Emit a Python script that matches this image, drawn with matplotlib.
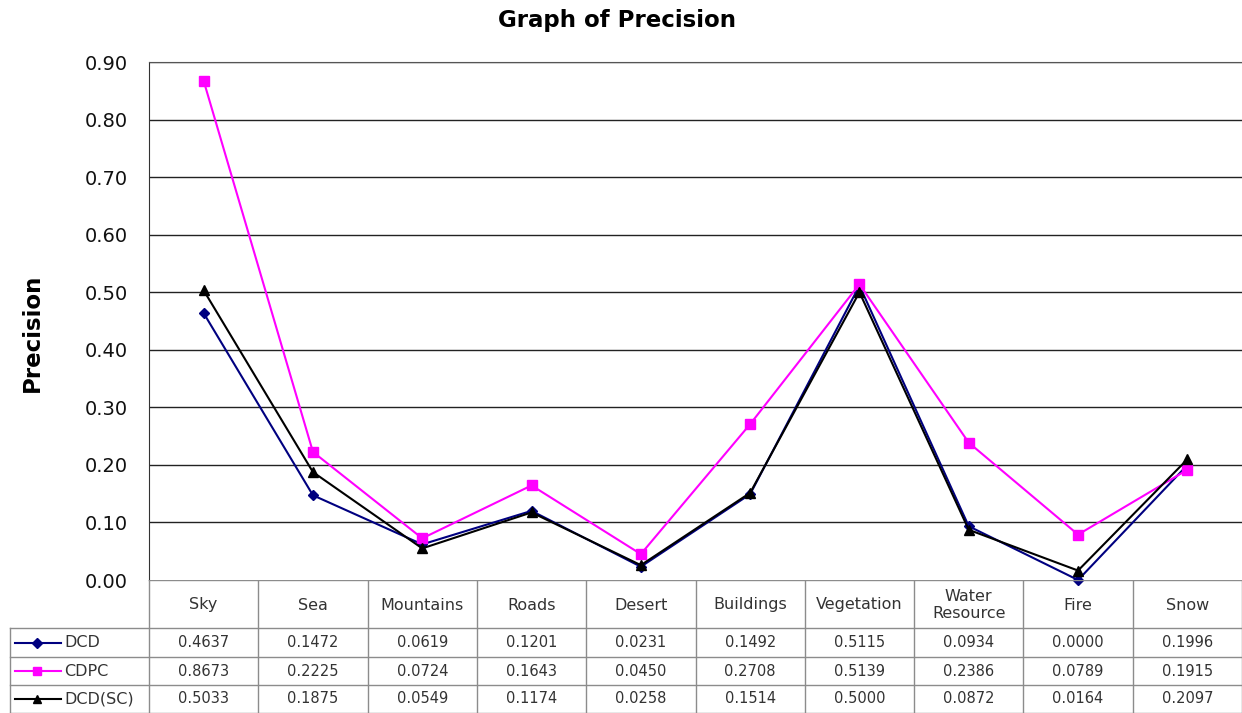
import matplotlib
matplotlib.use("Agg")
import matplotlib.pyplot as plt
from matplotlib.lines import Line2D

plt.rcParams['font.family'] = ['DejaVu Sans']

categories = ["Sky", "Sea", "Mountains", "Roads", "Desert", "Buildings",
              "Vegetation", "Water\nResource", "Fire", "Snow"]
series_names = ["DCD", "CDPC", "DCD(SC)"]
dcd = [0.4637, 0.1472, 0.0619, 0.1201, 0.0231, 0.1492, 0.5115, 0.0934, 0.0000, 0.1996]
cdpc = [0.8673, 0.2225, 0.0724, 0.1643, 0.0450, 0.2708, 0.5139, 0.2386, 0.0789, 0.1915]
dcd_sc = [0.5033, 0.1875, 0.0549, 0.1174, 0.0258, 0.1514, 0.5000, 0.0872, 0.0164, 0.2097]
y_ticks = [0.0, 0.1, 0.2, 0.3, 0.4, 0.5, 0.6, 0.7, 0.8, 0.9]

series = [dcd, cdpc, dcd_sc]
colors = ["#000080", "#FF00FF", "#000000"]
markers = ["D", "s", "^"]
msizes = [5.5, 7, 6.5]

W, H = 1242, 713
fig = plt.figure(figsize=(W / 100, H / 100), dpi=100)

# main plot axes (pixel layout)
px_l, px_r, px_t, px_b = 149, 1242, 62, 580
ax = fig.add_axes([px_l / W, 1 - px_b / H, (px_r - px_l) / W, (px_b - px_t) / H])
n = len(categories)
xs = [i + 0.5 for i in range(n)]
for vals, c, m, ms in zip(series, colors, markers, msizes):
    ax.plot(xs, vals, color=c, marker=m, markersize=ms, linewidth=1.5,
            markerfacecolor=c, markeredgecolor=c, clip_on=False, zorder=3)
ax.set_xlim(0, n)
ax.set_ylim(0, 0.9)
ax.set_yticks(y_ticks)
ax.set_yticklabels([f"{v:.2f}" for v in y_ticks], fontsize=14, color="#111111")
ax.tick_params(axis='y', length=0, pad=15)
ax.set_xticks([])
for yv in y_ticks[1:]:
    ax.axhline(yv, color="#222222", linewidth=1.0, zorder=1)
for s in ["right", "bottom"]:
    ax.spines[s].set_visible(False)
ax.spines["top"].set_color("#555555")
ax.spines["left"].set_color("#333333")

fig.text(32 / W, 1 - 333 / H, "Precision", rotation=90, ha="center", va="center",
         fontsize=16.5, fontweight="bold")
fig.text(617 / W, 1 - 21 / H, "Graph of Precision", ha="center", va="center",
         fontsize=16.5, fontweight="bold")

# data table drawn in pixel coordinates
tb = fig.add_axes([0, 0, 1, (H - px_b) / H])
tb.set_xlim(0, W)
tb.set_ylim(H, px_b)
tb.axis("off")
col_w = (px_r - px_l) / n
row_y = [px_b, 628, 657, 685, H - 0.5]
gc = "#8c8c8c"
tb.plot([px_l, px_r], [row_y[0], row_y[0]], color=gc, lw=1)
for yv in row_y[1:]:
    tb.plot([10, px_r], [yv, yv], color=gc, lw=1)
tb.plot([10, 10], [row_y[1], row_y[-1]], color=gc, lw=1)
for j in range(n + 1):
    xv = px_l + j * col_w
    tb.plot([xv, xv], [row_y[0], row_y[-1]], color=gc, lw=1)
for j, cat in enumerate(categories):
    tb.text(px_l + (j + 0.5) * col_w, (row_y[0] + row_y[1]) / 2 + 1, cat,
            ha="center", va="center", fontsize=11.5, linespacing=1.2, color="#333333")
for r, (name, vals, c, m, ms) in enumerate(zip(series_names, series, colors, markers, msizes)):
    yc = (row_y[r + 1] + row_y[r + 2]) / 2
    tb.add_line(Line2D([15, 61], [yc, yc], color=c, lw=1.5))
    tb.plot([37], [yc], marker=m, color=c, markersize=ms * 0.9, markeredgecolor=c)
    tb.text(64, yc, name, ha="left", va="center", fontsize=11.5, color="#333333")
    for j, v in enumerate(vals):
        tb.text(px_l + (j + 0.5) * col_w, yc, f"{v:.4f}", ha="center", va="center",
                fontsize=10.5, color="#333333")

fig.savefig("out.png", dpi=100, facecolor="white")
